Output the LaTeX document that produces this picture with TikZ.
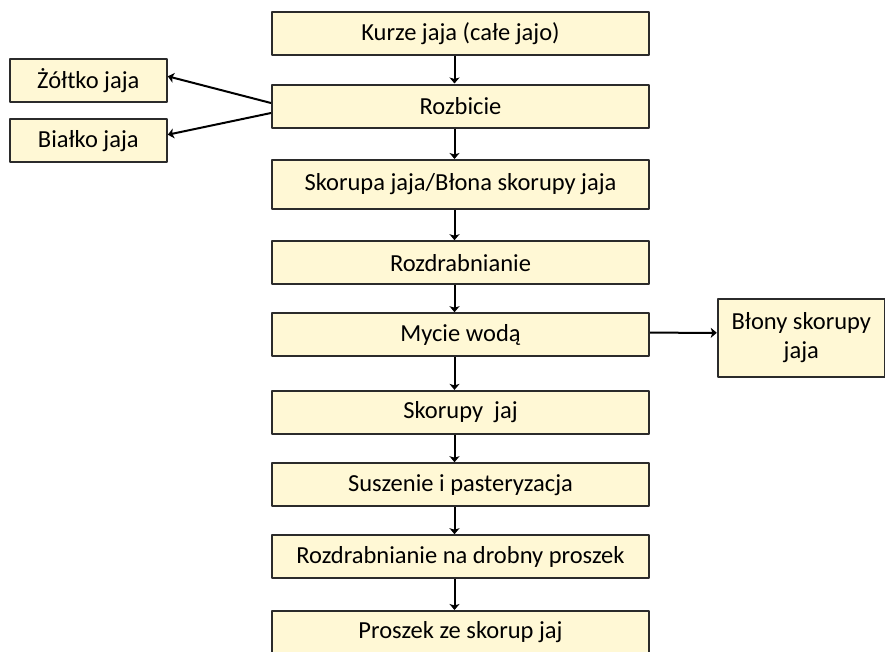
\documentclass[tikz,border=0pt]{standalone}
\usepackage{fontspec}
\setmainfont{Carlito}
\usetikzlibrary{arrows.meta}
\definecolor{boxfill}{HTML}{FFF8D5}
\definecolor{boxline}{HTML}{2B2B2B}
\begin{document}
\begin{tikzpicture}[>={Stealth[length=6pt, width=10pt, inset=1.5pt]}, x=1pt, y=-1pt, line join=round,
	font=\fontsize{24.5}{29}\selectfont,
	box/.style={draw=boxline, fill=boxfill, line width=2pt, inner sep=0pt,
		minimum width=377pt, minimum height=43pt},
	sidebox/.style={box, minimum width=157pt},
	arr/.style={->, line width=2pt}]
	\useasboundingbox (0,0) rectangle (885,651);
	% main chain
	\node[box] (kurze) at (460.5,33.8) {Kurze jaja (całe jajo)};
	\node[box] (rozbicie) at (460.5,106) {Rozbicie};
	\node[box, minimum height=49pt] (skorupa) at (460.5,184.5) {Skorupa jaja/Błona skorupy jaja};
	\node[box] (rozdr) at (460.5,262.7) {Rozdrabnianie};
	\node[box] (mycie) at (460.5,334.7) {Mycie wodą};
	\node[box] (skorupy) at (460.5,412.4) {Skorupy\ \ jaj};
	\node[box] (suszenie) at (460.5,484.7) {Suszenie i pasteryzacja};
	\node[box] (proszek) at (460.5,556.7) {Rozdrabnianie na drobny proszek};
	\node[box] (wynik) at (460.5,632.5) {Proszek ze skorup jaj};
	% side boxes
	\node[sidebox] (zoltko) at (88.3,80.3) {Żółtko jaja};
	\node[sidebox] (bialko) at (88.3,140.7) {Białko jaja};
	\node[sidebox, minimum width=167pt, minimum height=78pt, align=center] (blony) at (801.3,337.8) {Błony skorupy\\jaja};
	% arrows
	\foreach \a/\b in {kurze/rozbicie, rozbicie/skorupa, skorupa/rozdr, rozdr/mycie,
		mycie/skorupy, skorupy/suszenie, suszenie/proszek, proszek/wynik}
		\draw[arr] ([xshift=-6pt]\a.south) -- ([xshift=-6pt]\b.north);
	\draw[arr] ([yshift=3pt]rozbicie.west) -- ([yshift=4pt]zoltko.east);
	\draw[arr] ([yshift=-7pt]rozbicie.west) -- ([yshift=6pt]bialko.east);
	\draw[arr] ([yshift=2pt]mycie.east) -- ([yshift=5pt]blony.west);
\end{tikzpicture}
\end{document}
